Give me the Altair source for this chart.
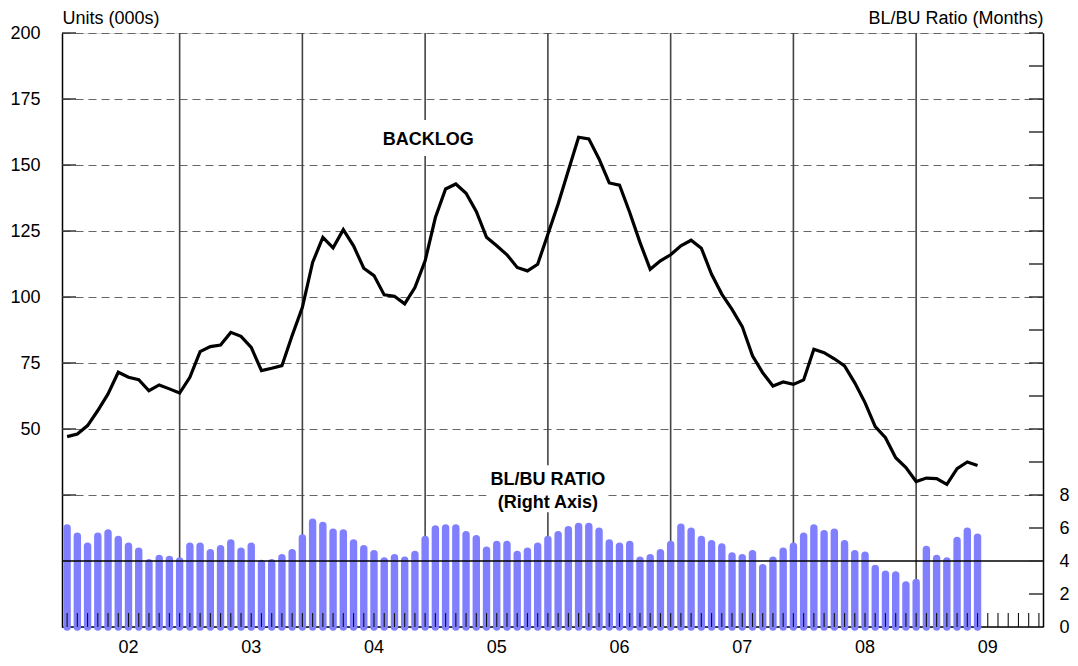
import altair as alt
import pandas as pd

# ---- data ----
months = list(range(1, 91))  # Jan 2002 .. Jun 2009, month index
backlog = [
    47.1, 48.1, 51.3, 57.0, 63.3, 71.5, 69.6, 68.7, 64.5, 66.7, 65.2, 63.6,
    69.6, 79.3, 81.2, 81.8, 86.6, 85.1, 80.9, 72.1, 73.0, 74.0, 85.4, 96.1,
    113.1, 122.6, 118.6, 125.5, 119.4, 110.9, 108.1, 100.8, 100.3, 97.4, 103.6, 113.7,
    130.1, 140.9, 142.8, 139.3, 132.4, 122.6, 119.4, 116.0, 111.2, 109.9, 112.4, 123.8,
    135.2, 147.9, 160.5, 159.9, 152.3, 143.2, 142.4, 132.0, 120.7, 110.5, 113.7, 116.0,
    119.4, 121.5, 118.5, 108.6, 101.1, 95.3, 88.8, 77.7, 71.3, 66.3, 67.8, 66.9,
    68.6, 80.2, 78.9, 76.6, 73.9, 67.5, 60.0, 50.9, 46.7, 39.1, 35.4, 30.1,
    31.4, 31.2, 29.0, 35.0, 37.5, 36.2,
]
ratio = [
    6.0, 5.5, 4.9, 5.5, 5.7, 5.3, 4.9, 4.6, 3.9, 4.15, 4.1, 4.0,
    4.9, 4.9, 4.5, 4.75, 5.1, 4.6, 4.9, 3.85, 3.9, 4.2, 4.5, 5.4,
    6.35, 6.15, 5.75, 5.7, 5.1, 4.75, 4.45, 4.0, 4.2, 4.05, 4.4, 5.3,
    5.95, 6.0, 6.0, 5.6, 5.35, 4.65, 5.0, 5.0, 4.4, 4.6, 4.9, 5.3,
    5.6, 5.9, 6.1, 6.1, 5.8, 5.1, 4.9, 5.0, 4.05, 4.2, 4.5, 5.0,
    6.05, 5.8, 5.3, 5.05, 4.85, 4.3, 4.2, 4.45, 3.6, 4.05, 4.6, 4.9,
    5.5, 6.0, 5.65, 5.75, 5.05, 4.45, 4.35, 3.55, 3.2, 3.15, 2.55, 2.7,
    4.7, 4.15, 4.0, 5.25, 5.8, 5.45,
]
year_labels = ["02", "03", "04", "05", "06", "07", "08", "09"]
year_label_months = [7, 19, 31, 43, 55, 67, 79, 91]
year_line_months = [12, 24, 36, 48, 60, 72, 84]
tick_months = list(range(1, 97))
left_values = [25, 50, 75, 100, 125, 150, 175, 200]
right_tick_values = list(range(2, 37, 2))
right_label_values = [0, 2, 4, 6, 8]
ref_ratio = [4]

W, H = 981, 594
FONT = "Liberation Sans"

xs = alt.Scale(domain=[0.5, 96.4], nice=False, zero=False)
yl = alt.Scale(domain=[-25, 200], nice=False, zero=False)
yr = alt.Scale(domain=[0, 36], nice=False, zero=False)

df = pd.DataFrame({"m": months, "v": backlog, "r": ratio})
year_lines = pd.DataFrame({"m": year_line_months})
year_df = pd.DataFrame({"m": year_label_months, "t": year_labels})
ticks_df = pd.DataFrame({"m": tick_months})
lv = pd.DataFrame({"v": left_values})
rt = pd.DataFrame({"r": right_tick_values})
ref = pd.DataFrame({"r": ref_ratio})

X_NOAXIS = dict(scale=xs, axis=None)

# ---------- backlog (left axis) ----------
vrules = alt.Chart(year_lines).mark_rule(color="#444444", strokeWidth=1.6).encode(
    x=alt.X("m:Q", **X_NOAXIS)
)

left_ticks = alt.Chart(lv).mark_rule(color="#333333", strokeWidth=1.5).encode(
    y=alt.Y("v:Q", scale=yl, axis=alt.Axis(
        orient="left",
        values=left_values, labelExpr="datum.value >= 50 ? datum.label : ''",
        grid=True, gridDash=[8, 5], gridColor="#666666", gridWidth=1.2,
        ticks=False, labelPadding=22, labelFontSize=18, labelColor="black", labelFont=FONT,
        domainColor="black", domainWidth=1.5,
        title="Units (000s)", titleAngle=0, titleAlign="left", titleX=0, titleY=-10,
        titleBaseline="alphabetic", titleFontSize=18, titleFontWeight="normal",
        titleFont=FONT, titleColor="black")),
    x=alt.value(0), x2=alt.value(14),
)

bk_label = pd.DataFrame({"m": [36.3], "v": [159.6], "t": ["BACKLOG"],
                         "m1": [30.8], "m2": [41.8], "v1": [153.4], "v2": [167.0]})
bk_rect = alt.Chart(bk_label).mark_rect(color="white").encode(
    x=alt.X("m1:Q", **X_NOAXIS), x2="m2:Q",
    y=alt.Y("v1:Q", scale=yl, axis=None), y2="v2:Q")
bk_text = alt.Chart(bk_label).mark_text(font=FONT, fontSize=18, fontWeight="bold",
                                        color="black", baseline="middle", align="center").encode(
    x=alt.X("m:Q", **X_NOAXIS), y=alt.Y("v:Q", scale=yl, axis=None), text="t:N")

line = alt.Chart(df).mark_line(color="black", strokeWidth=3.2).encode(
    x=alt.X("m:Q", **X_NOAXIS), y=alt.Y("v:Q", scale=yl, axis=None))

# ---------- x axis (drawn as marks) ----------
bottom_line = alt.Chart(ref).mark_rule(color="black", strokeWidth=1.5).encode(
    y=alt.value(H))
year_text = alt.Chart(year_df).mark_text(font=FONT, fontSize=18, color="black",
                                         baseline="alphabetic", align="center").encode(
    x=alt.X("m:Q", **X_NOAXIS), y=alt.value(H + 26), text="t:N")

# ---------- ratio (right axis) ----------
bars = alt.Chart(df).mark_rule(color="#8080ff", strokeWidth=7.4, strokeCap="round").encode(
    x=alt.X("m:Q", **X_NOAXIS),
    y=alt.Y("r:Q", scale=yr, axis=alt.Axis(
        orient="right", values=right_label_values, ticks=False, grid=False,
        labelPadding=16, labelFontSize=18, labelColor="black", labelFont=FONT,
        domainColor="black", domainWidth=1.5,
        title="BL/BU Ratio (Months)", titleAngle=0, titleAlign="right", titleX=0, titleY=-10,
        titleBaseline="alphabetic", titleFontSize=18, titleFontWeight="normal",
        titleFont=FONT, titleColor="black")),
    y2="zero:Q",
).transform_calculate(zero="0")

ref_rule = alt.Chart(ref).mark_rule(color="black", strokeWidth=1.5).encode(
    y=alt.Y("r:Q", scale=yr, axis=None))

month_ticks = alt.Chart(ticks_df).mark_rule(color="#111111", strokeWidth=1.1).encode(
    x=alt.X("m:Q", **X_NOAXIS), y=alt.value(H), y2=alt.value(H - 14))

right_ticks = alt.Chart(rt).mark_rule(color="#333333", strokeWidth=1.5).encode(
    y=alt.Y("r:Q", scale=yr, axis=None), x=alt.value(W - 14), x2=alt.value(W))

rl = pd.DataFrame({"m": [48.0, 48.0], "r": [8.9, 7.5], "t": ["BL/BU RATIO", "(Right Axis)"]})
rl_box = pd.DataFrame({"m1": [42.0], "m2": [53.5], "r1": [6.95], "r2": [9.8]})
rl_rect = alt.Chart(rl_box).mark_rect(color="white").encode(
    x=alt.X("m1:Q", **X_NOAXIS), x2="m2:Q",
    y=alt.Y("r1:Q", scale=yr, axis=None), y2="r2:Q")
rl_text = alt.Chart(rl).mark_text(font=FONT, fontSize=18, fontWeight="bold",
                                  color="black", baseline="middle", align="center").encode(
    x=alt.X("m:Q", **X_NOAXIS), y=alt.Y("r:Q", scale=yr, axis=None), text="t:N")

chart = alt.layer(
    vrules, left_ticks, bk_rect, bk_text, line, bottom_line, year_text,
    bars, ref_rule, month_ticks, right_ticks, rl_rect, rl_text,
).resolve_scale(y="independent").properties(
    width=W, height=H,
    autosize=alt.AutoSizeParams(type="none"),
    padding={"left": 54, "top": 25, "right": 27, "bottom": 31},
).configure_view(stroke=None).configure(font=FONT)

chart.save("out.html", embed_options={"renderer": "svg", "actions": False})
